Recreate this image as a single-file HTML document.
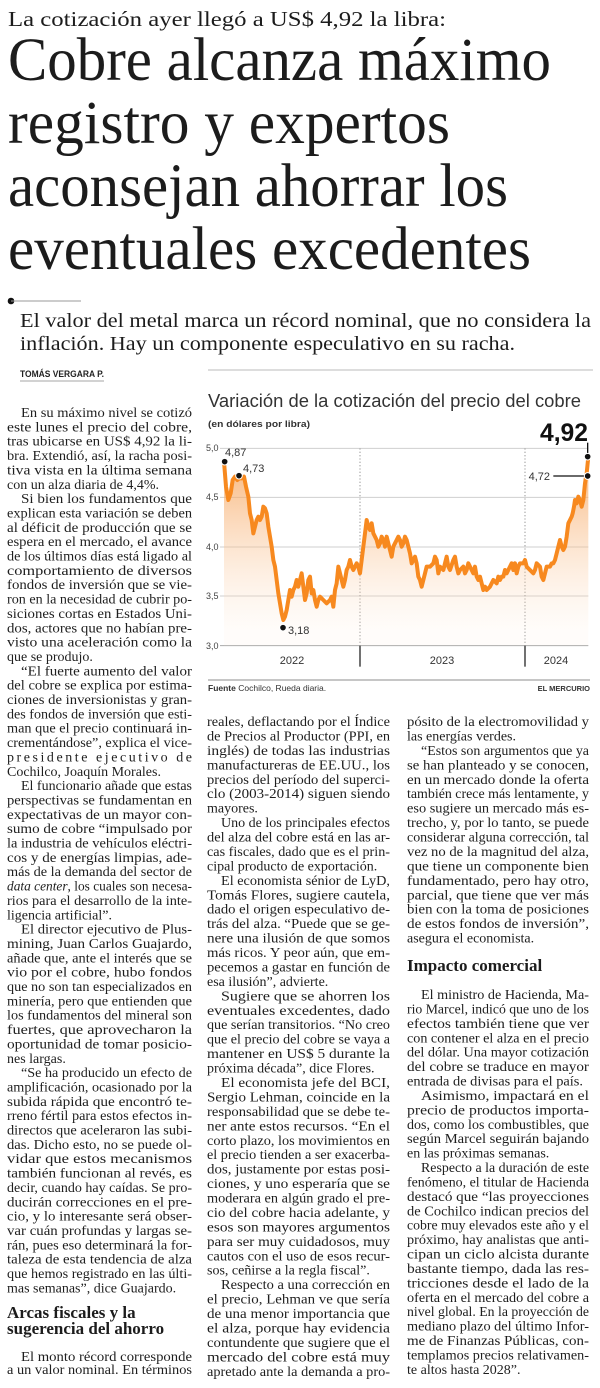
<!DOCTYPE html>
<html><head><meta charset="utf-8"><style>
html,body{margin:0;padding:0;background:#fff}
svg{display:block}
.s{font-family:"Liberation Serif",serif;fill:#1c1c1c}
.b{font-family:"Liberation Serif",serif;fill:#1e1e1e;font-size:14px}
.h{font-family:"Liberation Serif",serif;fill:#1c1c1c;font-size:17px;font-weight:bold}
.a{font-family:"Liberation Sans",sans-serif}
</style></head><body>
<svg width="600" height="1388" viewBox="0 0 600 1388" xmlns="http://www.w3.org/2000/svg">
<rect width="600" height="1388" fill="#fff"/>
<text class="s" x="8" y="26" font-size="21" textLength="438" lengthAdjust="spacingAndGlyphs">La cotización ayer llegó a US$ 4,92 la libra:</text>
<text class="s" x="8" y="80" font-size="61" textLength="543" lengthAdjust="spacingAndGlyphs">Cobre alcanza máximo</text>
<text class="s" x="8" y="143" font-size="61" textLength="442" lengthAdjust="spacingAndGlyphs">registro y expertos</text>
<text class="s" x="8" y="206" font-size="61" textLength="500" lengthAdjust="spacingAndGlyphs">aconsejan ahorrar los</text>
<text class="s" x="8" y="269" font-size="61" textLength="523" lengthAdjust="spacingAndGlyphs">eventuales excedentes</text>
<circle cx="11" cy="301" r="3.3" fill="#111"/>
<line x1="11" y1="301" x2="81" y2="301" stroke="#999" stroke-width="1"/>
<text class="s" x="20" y="327" font-size="20" textLength="571" lengthAdjust="spacingAndGlyphs">El valor del metal marca un récord nominal, que no considera la</text>
<text class="s" x="20" y="350" font-size="20" textLength="495" lengthAdjust="spacingAndGlyphs">inflación. Hay un componente especulativo en su racha.</text>
<text class="a" x="20" y="377" font-size="9" font-weight="bold" fill="#222" textLength="84" lengthAdjust="spacingAndGlyphs">TOMÁS VERGARA P.</text>
<line x1="20" y1="381" x2="104" y2="381" stroke="#888" stroke-width="0.8"/>
<line x1="208" y1="370" x2="593" y2="370" stroke="#bbb" stroke-width="1"/>

<text class="a" x="208" y="407" font-size="18" fill="#333" textLength="373" lengthAdjust="spacingAndGlyphs">Variación de la cotización del precio del cobre</text>
<text class="a" x="208" y="427" font-size="9.5" font-weight="bold" fill="#333" textLength="102" lengthAdjust="spacingAndGlyphs">(en dólares por libra)</text>
<text class="a" x="540" y="441" font-size="25" font-weight="bold" fill="#111" textLength="48" lengthAdjust="spacingAndGlyphs">4,92</text>
<g transform="translate(200,380) scale(0.33333)">
<defs><linearGradient id="g" gradientUnits="userSpaceOnUse" x1="0" y1="230" x2="0" y2="760"><stop offset="0" stop-color="#f59a4a" stop-opacity="0.75"/><stop offset="1" stop-color="#fde6d2" stop-opacity="0.1"/></linearGradient></defs>
<g stroke="#cfcfcf" stroke-width="3">
<line x1="60" y1="205" x2="1165" y2="205"/><line x1="60" y1="352" x2="1165" y2="352"/><line x1="60" y1="501" x2="1165" y2="501"/><line x1="60" y1="648" x2="1165" y2="648"/>
</g>
<line x1="60" y1="797" x2="1165" y2="797" stroke="#aaa" stroke-width="3"/>
<g stroke="#999" stroke-width="3" stroke-dasharray="4,6"><line x1="480" y1="205" x2="480" y2="797"/><line x1="975" y1="205" x2="975" y2="797"/></g>
<g stroke="#555" stroke-width="5"><line x1="480" y1="797" x2="480" y2="860"/><line x1="975" y1="797" x2="975" y2="860"/></g>
<polygon fill="url(#g)" points="72,797 72,245 78,320 85,360 92,340 98,300 105,290 112,300 118,295 125,295 132,290 138,320 145,350 150,400 155,420 160,460 165,440 170,420 175,410 180,420 185,410 190,380 195,385 200,400 205,440 210,470 215,500 220,540 225,560 230,600 235,640 240,670 245,700 250,720 255,710 260,690 265,660 270,630 275,650 280,630 285,620 290,600 295,620 300,600 305,580 310,620 315,660 320,640 325,600 330,590 335,640 340,630 345,660 350,680 355,660 360,650 370,660 380,670 390,660 395,650 400,680 405,630 410,610 415,560 420,580 425,600 430,620 435,600 440,570 445,560 450,540 455,560 460,570 465,560 470,550 475,560 480,580 485,540 490,500 495,460 500,420 505,440 510,450 515,430 520,460 525,470 530,480 535,500 540,490 545,470 550,480 555,500 560,470 565,490 570,510 575,530 580,500 585,490 590,480 595,470 600,480 605,500 610,490 615,470 620,480 625,500 630,520 635,550 640,540 645,530 650,550 655,590 660,600 665,620 670,600 675,580 680,560 690,560 700,550 705,530 710,540 715,580 720,560 730,570 740,530 745,560 750,570 760,540 765,530 770,560 775,580 780,570 790,560 795,580 800,570 805,550 810,560 815,570 820,580 825,560 830,590 835,600 840,590 845,610 850,630 855,620 860,630 870,620 880,600 890,610 895,590 900,600 905,590 910,590 915,570 920,580 930,560 935,550 940,570 945,550 950,580 955,560 960,550 970,550 975,540 980,560 990,570 1000,580 1005,570 1010,550 1020,560 1025,590 1030,600 1035,580 1040,560 1050,560 1055,550 1060,550 1065,540 1070,520 1075,500 1080,480 1085,500 1090,510 1095,500 1100,470 1105,430 1110,420 1115,410 1118,400 1122,380 1125,360 1130,370 1135,350 1140,360 1145,380 1150,360 1155,310 1158,290 1160,280 1163,250 1165,230 1165,797"/>
<polyline fill="none" stroke="#f7891f" stroke-width="12" stroke-linejoin="round" points="72,245 78,320 85,360 92,340 98,300 105,290 112,300 118,295 125,295 132,290 138,320 145,350 150,400 155,420 160,460 165,440 170,420 175,410 180,420 185,410 190,380 195,385 200,400 205,440 210,470 215,500 220,540 225,560 230,600 235,640 240,670 245,700 250,720 255,710 260,690 265,660 270,630 275,650 280,630 285,620 290,600 295,620 300,600 305,580 310,620 315,660 320,640 325,600 330,590 335,640 340,630 345,660 350,680 355,660 360,650 370,660 380,670 390,660 395,650 400,680 405,630 410,610 415,560 420,580 425,600 430,620 435,600 440,570 445,560 450,540 455,560 460,570 465,560 470,550 475,560 480,580 485,540 490,500 495,460 500,420 505,440 510,450 515,430 520,460 525,470 530,480 535,500 540,490 545,470 550,480 555,500 560,470 565,490 570,510 575,530 580,500 585,490 590,480 595,470 600,480 605,500 610,490 615,470 620,480 625,500 630,520 635,550 640,540 645,530 650,550 655,590 660,600 665,620 670,600 675,580 680,560 690,560 700,550 705,530 710,540 715,580 720,560 730,570 740,530 745,560 750,570 760,540 765,530 770,560 775,580 780,570 790,560 795,580 800,570 805,550 810,560 815,570 820,580 825,560 830,590 835,600 840,590 845,610 850,630 855,620 860,630 870,620 880,600 890,610 895,590 900,600 905,590 910,590 915,570 920,580 930,560 935,550 940,570 945,550 950,580 955,560 960,550 970,550 975,540 980,560 990,570 1000,580 1005,570 1010,550 1020,560 1025,590 1030,600 1035,580 1040,560 1050,560 1055,550 1060,550 1065,540 1070,520 1075,500 1080,480 1085,500 1090,510 1095,500 1100,470 1105,430 1110,420 1115,410 1118,400 1122,380 1125,360 1130,370 1135,350 1140,360 1145,380 1150,360 1155,310 1158,290 1160,280 1163,250 1165,230"/>
<line x1="1060" y1="288" x2="1163" y2="288" stroke="#111" stroke-width="4"/>
<line x1="1163" y1="230" x2="1163" y2="188" stroke="#111" stroke-width="4"/>
<g fill="#111" stroke="#fff" stroke-width="3">
<circle cx="74" cy="245" r="10"/><circle cx="117" cy="287" r="10"/><circle cx="249" cy="743" r="10"/><circle cx="1163" cy="288" r="10"/><circle cx="1163" cy="230" r="10"/>
</g>
</g>
<g class="a" font-size="9" fill="#444">
<text x="206" y="451">5,0</text><text x="206" y="500">4,5</text><text x="206" y="550">4,0</text><text x="206" y="599">3,5</text><text x="206" y="649">3,0</text>
</g>
<g class="a" font-size="11" fill="#333">
<text x="225" y="456">4,87</text><text x="243" y="472">4,73</text><text x="288" y="634">3,18</text><text x="550" y="480" text-anchor="end">4,72</text>
<text x="292" y="664" text-anchor="middle">2022</text><text x="442" y="664" text-anchor="middle">2023</text><text x="556" y="664" text-anchor="middle">2024</text>
</g>
<line x1="208" y1="680" x2="590" y2="680" stroke="#666" stroke-width="0.8"/>
<text class="a" x="208" y="691" font-size="8.5" fill="#333"><tspan font-weight="bold">Fuente</tspan> Cochilco, Rueda diaria.</text>
<text class="a" x="590" y="691" font-size="7.5" font-weight="bold" fill="#333" text-anchor="end">EL MERCURIO</text>

<text class="b" x="21" y="417" textLength="171" lengthAdjust="spacingAndGlyphs">En su máximo nivel se cotizó</text>
<text class="b" x="7" y="431.4" textLength="185" lengthAdjust="spacingAndGlyphs">este lunes el precio del cobre,</text>
<text class="b" x="7" y="445.7" textLength="185" lengthAdjust="spacingAndGlyphs">tras ubicarse en US$ 4,92 la li-</text>
<text class="b" x="7" y="460.1" textLength="185" lengthAdjust="spacingAndGlyphs">bra. Extendió, así, la racha posi-</text>
<text class="b" x="7" y="474.4" textLength="185" lengthAdjust="spacingAndGlyphs">tiva vista en la última semana</text>
<text class="b" x="7" y="488.8">con un alza diaria de 4,4%.</text>
<text class="b" x="21" y="503.1" textLength="171" lengthAdjust="spacingAndGlyphs">Si bien los fundamentos que</text>
<text class="b" x="7" y="517.5" textLength="185" lengthAdjust="spacingAndGlyphs">explican esta variación se deben</text>
<text class="b" x="7" y="531.8" textLength="185" lengthAdjust="spacingAndGlyphs">al déficit de producción que se</text>
<text class="b" x="7" y="546.2" textLength="185" lengthAdjust="spacingAndGlyphs">espera en el mercado, el avance</text>
<text class="b" x="7" y="560.5" textLength="185" lengthAdjust="spacingAndGlyphs">de los últimos días está ligado al</text>
<text class="b" x="7" y="574.9" textLength="185" lengthAdjust="spacingAndGlyphs">comportamiento de diversos</text>
<text class="b" x="7" y="589.2" textLength="185" lengthAdjust="spacingAndGlyphs">fondos de inversión que se vie-</text>
<text class="b" x="7" y="603.6" textLength="185" lengthAdjust="spacingAndGlyphs">ron en la necesidad de cubrir po-</text>
<text class="b" x="7" y="617.9" textLength="185" lengthAdjust="spacingAndGlyphs">siciones cortas en Estados Uni-</text>
<text class="b" x="7" y="632.3" textLength="185" lengthAdjust="spacingAndGlyphs">dos, actores que no habían pre-</text>
<text class="b" x="7" y="646.6" textLength="185" lengthAdjust="spacingAndGlyphs">visto una aceleración como la</text>
<text class="b" x="7" y="661">que se produjo.</text>
<text class="b" x="21" y="675.3" textLength="171" lengthAdjust="spacingAndGlyphs">“El fuerte aumento del valor</text>
<text class="b" x="7" y="689.7" textLength="185" lengthAdjust="spacingAndGlyphs">del cobre se explica por estima-</text>
<text class="b" x="7" y="704" textLength="185" lengthAdjust="spacingAndGlyphs">ciones de inversionistas y gran-</text>
<text class="b" x="7" y="718.4" textLength="185" lengthAdjust="spacingAndGlyphs">des fondos de inversión que esti-</text>
<text class="b" x="7" y="732.7" textLength="185" lengthAdjust="spacingAndGlyphs">man que el precio continuará in-</text>
<text class="b" x="7" y="747.1" textLength="185" lengthAdjust="spacingAndGlyphs">crementándose”, explica el vice-</text>
<text class="b" x="7" y="761.4" textLength="185" lengthAdjust="spacing">presidente ejecutivo de</text>
<text class="b" x="7" y="775.8">Cochilco, Joaquín Morales.</text>
<text class="b" x="21" y="790.1" textLength="171" lengthAdjust="spacingAndGlyphs">El funcionario añade que estas</text>
<text class="b" x="7" y="804.5" textLength="185" lengthAdjust="spacingAndGlyphs">perspectivas se fundamentan en</text>
<text class="b" x="7" y="818.8" textLength="185" lengthAdjust="spacingAndGlyphs">expectativas de un mayor con-</text>
<text class="b" x="7" y="833.2" textLength="185" lengthAdjust="spacingAndGlyphs">sumo de cobre “impulsado por</text>
<text class="b" x="7" y="847.5" textLength="185" lengthAdjust="spacingAndGlyphs">la industria de vehículos eléctri-</text>
<text class="b" x="7" y="861.9" textLength="185" lengthAdjust="spacingAndGlyphs">cos y de energías limpias, ade-</text>
<text class="b" x="7" y="876.2" textLength="185" lengthAdjust="spacingAndGlyphs">más de la demanda del sector de</text>
<text class="b" x="7" y="890.6" textLength="185" lengthAdjust="spacingAndGlyphs"><tspan font-style="italic">data center</tspan>, los cuales son necesa-</text>
<text class="b" x="7" y="904.9" textLength="185" lengthAdjust="spacingAndGlyphs">rios para el desarrollo de la inte-</text>
<text class="b" x="7" y="919.3">ligencia artificial”.</text>
<text class="b" x="21" y="933.6" textLength="171" lengthAdjust="spacingAndGlyphs">El director ejecutivo de Plus-</text>
<text class="b" x="7" y="948" textLength="185" lengthAdjust="spacingAndGlyphs">mining, Juan Carlos Guajardo,</text>
<text class="b" x="7" y="962.3" textLength="185" lengthAdjust="spacingAndGlyphs">añade que, ante el interés que se</text>
<text class="b" x="7" y="976.7" textLength="185" lengthAdjust="spacingAndGlyphs">vio por el cobre, hubo fondos</text>
<text class="b" x="7" y="991" textLength="185" lengthAdjust="spacingAndGlyphs">que no son tan especializados en</text>
<text class="b" x="7" y="1005.4" textLength="185" lengthAdjust="spacingAndGlyphs">minería, pero que entienden que</text>
<text class="b" x="7" y="1019.7" textLength="185" lengthAdjust="spacingAndGlyphs">los fundamentos del mineral son</text>
<text class="b" x="7" y="1034.1" textLength="185" lengthAdjust="spacingAndGlyphs">fuertes, que aprovecharon la</text>
<text class="b" x="7" y="1048.4" textLength="185" lengthAdjust="spacingAndGlyphs">oportunidad de tomar posicio-</text>
<text class="b" x="7" y="1062.8">nes largas.</text>
<text class="b" x="21" y="1077.1" textLength="171" lengthAdjust="spacingAndGlyphs">“Se ha producido un efecto de</text>
<text class="b" x="7" y="1091.5" textLength="185" lengthAdjust="spacingAndGlyphs">amplificación, ocasionado por la</text>
<text class="b" x="7" y="1105.8" textLength="185" lengthAdjust="spacingAndGlyphs">subida rápida que encontró te-</text>
<text class="b" x="7" y="1120.2" textLength="185" lengthAdjust="spacingAndGlyphs">rreno fértil para estos efectos in-</text>
<text class="b" x="7" y="1134.5" textLength="185" lengthAdjust="spacingAndGlyphs">directos que aceleraron las subi-</text>
<text class="b" x="7" y="1148.9" textLength="185" lengthAdjust="spacingAndGlyphs">das. Dicho esto, no se puede ol-</text>
<text class="b" x="7" y="1163.2" textLength="185" lengthAdjust="spacingAndGlyphs">vidar que estos mecanismos</text>
<text class="b" x="7" y="1177.6" textLength="185" lengthAdjust="spacingAndGlyphs">también funcionan al revés, es</text>
<text class="b" x="7" y="1191.9" textLength="185" lengthAdjust="spacingAndGlyphs">decir, cuando hay caídas. Se pro-</text>
<text class="b" x="7" y="1206.3" textLength="185" lengthAdjust="spacingAndGlyphs">ducirán correcciones en el pre-</text>
<text class="b" x="7" y="1220.6" textLength="185" lengthAdjust="spacingAndGlyphs">cio, y lo interesante será obser-</text>
<text class="b" x="7" y="1235" textLength="185" lengthAdjust="spacingAndGlyphs">var cuán profundas y largas se-</text>
<text class="b" x="7" y="1249.3" textLength="185" lengthAdjust="spacingAndGlyphs">rán, pues eso determinará la for-</text>
<text class="b" x="7" y="1263.7" textLength="185" lengthAdjust="spacingAndGlyphs">taleza de esta tendencia de alza</text>
<text class="b" x="7" y="1278" textLength="185" lengthAdjust="spacingAndGlyphs">que hemos registrado en las últi-</text>
<text class="b" x="7" y="1292.4">mas semanas”, dice Guajardo.</text>
<text class="h" x="7" y="1318">Arcas fiscales y la</text>
<text class="h" x="7" y="1334">sugerencia del ahorro</text>
<text class="b" x="21" y="1361" textLength="171" lengthAdjust="spacingAndGlyphs">El monto récord corresponde</text>
<text class="b" x="7" y="1374" textLength="185" lengthAdjust="spacingAndGlyphs">a un valor nominal. En términos</text>

<text class="b" x="207" y="726" textLength="183" lengthAdjust="spacingAndGlyphs">reales, deflactando por el Índice</text>
<text class="b" x="207" y="740.4" textLength="183" lengthAdjust="spacingAndGlyphs">de Precios al Productor (PPI, en</text>
<text class="b" x="207" y="754.9" textLength="183" lengthAdjust="spacingAndGlyphs">inglés) de todas las industrias</text>
<text class="b" x="207" y="769.3" textLength="183" lengthAdjust="spacingAndGlyphs">manufactureras de EE.UU., los</text>
<text class="b" x="207" y="783.8" textLength="183" lengthAdjust="spacingAndGlyphs">precios del período del superci-</text>
<text class="b" x="207" y="798.2" textLength="183" lengthAdjust="spacingAndGlyphs">clo (2003-2014) siguen siendo</text>
<text class="b" x="207" y="812.6">mayores.</text>
<text class="b" x="221" y="827.1" textLength="169" lengthAdjust="spacingAndGlyphs">Uno de los principales efectos</text>
<text class="b" x="207" y="841.5" textLength="183" lengthAdjust="spacingAndGlyphs">del alza del cobre está en las ar-</text>
<text class="b" x="207" y="856" textLength="183" lengthAdjust="spacingAndGlyphs">cas fiscales, dado que es el prin-</text>
<text class="b" x="207" y="870.4">cipal producto de exportación.</text>
<text class="b" x="221" y="884.8" textLength="169" lengthAdjust="spacingAndGlyphs">El economista sénior de LyD,</text>
<text class="b" x="207" y="899.3" textLength="183" lengthAdjust="spacingAndGlyphs">Tomás Flores, sugiere cautela,</text>
<text class="b" x="207" y="913.7" textLength="183" lengthAdjust="spacingAndGlyphs">dado el origen especulativo de-</text>
<text class="b" x="207" y="928.2" textLength="183" lengthAdjust="spacingAndGlyphs">trás del alza. “Puede que se ge-</text>
<text class="b" x="207" y="942.6" textLength="183" lengthAdjust="spacingAndGlyphs">nere una ilusión de que somos</text>
<text class="b" x="207" y="957" textLength="183" lengthAdjust="spacingAndGlyphs">más ricos. Y peor aún, que em-</text>
<text class="b" x="207" y="971.5" textLength="183" lengthAdjust="spacingAndGlyphs">pecemos a gastar en función de</text>
<text class="b" x="207" y="985.9">esa ilusión”, advierte.</text>
<text class="b" x="221" y="1000.4" textLength="169" lengthAdjust="spacingAndGlyphs">Sugiere que se ahorren los</text>
<text class="b" x="207" y="1014.8" textLength="183" lengthAdjust="spacingAndGlyphs">eventuales excedentes, dado</text>
<text class="b" x="207" y="1029.2" textLength="183" lengthAdjust="spacingAndGlyphs">que serían transitorios. “No creo</text>
<text class="b" x="207" y="1043.7" textLength="183" lengthAdjust="spacingAndGlyphs">que el precio del cobre se vaya a</text>
<text class="b" x="207" y="1058.1" textLength="183" lengthAdjust="spacingAndGlyphs">mantener en US$ 5 durante la</text>
<text class="b" x="207" y="1072.6">próxima década”, dice Flores.</text>
<text class="b" x="221" y="1087" textLength="169" lengthAdjust="spacingAndGlyphs">El economista jefe del BCI,</text>
<text class="b" x="207" y="1101.4" textLength="183" lengthAdjust="spacingAndGlyphs">Sergio Lehman, coincide en la</text>
<text class="b" x="207" y="1115.9" textLength="183" lengthAdjust="spacingAndGlyphs">responsabilidad que se debe te-</text>
<text class="b" x="207" y="1130.3" textLength="183" lengthAdjust="spacingAndGlyphs">ner ante estos recursos. “En el</text>
<text class="b" x="207" y="1144.8" textLength="183" lengthAdjust="spacingAndGlyphs">corto plazo, los movimientos en</text>
<text class="b" x="207" y="1159.2" textLength="183" lengthAdjust="spacingAndGlyphs">el precio tienden a ser exacerba-</text>
<text class="b" x="207" y="1173.6" textLength="183" lengthAdjust="spacingAndGlyphs">dos, justamente por estas posi-</text>
<text class="b" x="207" y="1188.1" textLength="183" lengthAdjust="spacingAndGlyphs">ciones, y uno esperaría que se</text>
<text class="b" x="207" y="1202.5" textLength="183" lengthAdjust="spacingAndGlyphs">moderara en algún grado el pre-</text>
<text class="b" x="207" y="1217" textLength="183" lengthAdjust="spacingAndGlyphs">cio del cobre hacia adelante, y</text>
<text class="b" x="207" y="1231.4" textLength="183" lengthAdjust="spacingAndGlyphs">esos son mayores argumentos</text>
<text class="b" x="207" y="1245.8" textLength="183" lengthAdjust="spacingAndGlyphs">para ser muy cuidadosos, muy</text>
<text class="b" x="207" y="1260.3" textLength="183" lengthAdjust="spacingAndGlyphs">cautos con el uso de esos recur-</text>
<text class="b" x="207" y="1274.7">sos, ceñirse a la regla fiscal”.</text>
<text class="b" x="221" y="1289.2" textLength="169" lengthAdjust="spacingAndGlyphs">Respecto a una corrección en</text>
<text class="b" x="207" y="1303.6" textLength="183" lengthAdjust="spacingAndGlyphs">el precio, Lehman ve que sería</text>
<text class="b" x="207" y="1318" textLength="183" lengthAdjust="spacingAndGlyphs">de una menor importancia que</text>
<text class="b" x="207" y="1332.5" textLength="183" lengthAdjust="spacingAndGlyphs">el alza, porque hay evidencia</text>
<text class="b" x="207" y="1346.9" textLength="183" lengthAdjust="spacingAndGlyphs">contundente que sugiere que el</text>
<text class="b" x="207" y="1361.4" textLength="183" lengthAdjust="spacingAndGlyphs">mercado del cobre está muy</text>
<text class="b" x="207" y="1375.8" textLength="183" lengthAdjust="spacingAndGlyphs">apretado ante la demanda a pro-</text>

<text class="b" x="407" y="726" textLength="182" lengthAdjust="spacingAndGlyphs">pósito de la electromovilidad y</text>
<text class="b" x="407" y="740.4">las energías verdes.</text>
<text class="b" x="421" y="754.9" textLength="168" lengthAdjust="spacingAndGlyphs">“Estos son argumentos que ya</text>
<text class="b" x="407" y="769.3" textLength="182" lengthAdjust="spacingAndGlyphs">se han planteado y se conocen,</text>
<text class="b" x="407" y="783.8" textLength="182" lengthAdjust="spacingAndGlyphs">en un mercado donde la oferta</text>
<text class="b" x="407" y="798.2" textLength="182" lengthAdjust="spacingAndGlyphs">también crece más lentamente, y</text>
<text class="b" x="407" y="812.6" textLength="182" lengthAdjust="spacingAndGlyphs">eso sugiere un mercado más es-</text>
<text class="b" x="407" y="827.1" textLength="182" lengthAdjust="spacingAndGlyphs">trecho, y, por lo tanto, se puede</text>
<text class="b" x="407" y="841.5" textLength="182" lengthAdjust="spacingAndGlyphs">considerar alguna corrección, tal</text>
<text class="b" x="407" y="856" textLength="182" lengthAdjust="spacingAndGlyphs">vez no de la magnitud del alza,</text>
<text class="b" x="407" y="870.4" textLength="182" lengthAdjust="spacingAndGlyphs">que tiene un componente bien</text>
<text class="b" x="407" y="884.8" textLength="182" lengthAdjust="spacingAndGlyphs">fundamentado, pero hay otro,</text>
<text class="b" x="407" y="899.3" textLength="182" lengthAdjust="spacingAndGlyphs">parcial, que tiene que ver más</text>
<text class="b" x="407" y="913.7" textLength="182" lengthAdjust="spacingAndGlyphs">bien con la toma de posiciones</text>
<text class="b" x="407" y="928.2" textLength="182" lengthAdjust="spacingAndGlyphs">de estos fondos de inversión”,</text>
<text class="b" x="407" y="942.6">asegura el economista.</text>
<text class="h" x="407" y="971">Impacto comercial</text>
<text class="b" x="421" y="999" textLength="168" lengthAdjust="spacingAndGlyphs">El ministro de Hacienda, Ma-</text>
<text class="b" x="407" y="1013.4" textLength="182" lengthAdjust="spacingAndGlyphs">rio Marcel, indicó que uno de los</text>
<text class="b" x="407" y="1027.8" textLength="182" lengthAdjust="spacingAndGlyphs">efectos también tiene que ver</text>
<text class="b" x="407" y="1042.3" textLength="182" lengthAdjust="spacingAndGlyphs">con contener el alza en el precio</text>
<text class="b" x="407" y="1056.7" textLength="182" lengthAdjust="spacingAndGlyphs">del dólar. Una mayor cotización</text>
<text class="b" x="407" y="1071.1" textLength="182" lengthAdjust="spacingAndGlyphs">del cobre se traduce en mayor</text>
<text class="b" x="407" y="1085.5" textLength="176" lengthAdjust="spacingAndGlyphs">entrada de divisas para el país.</text>
<text class="b" x="421" y="1099.9" textLength="168" lengthAdjust="spacingAndGlyphs">Asimismo, impactará en el</text>
<text class="b" x="407" y="1114.4" textLength="182" lengthAdjust="spacingAndGlyphs">precio de productos importa-</text>
<text class="b" x="407" y="1128.8" textLength="182" lengthAdjust="spacingAndGlyphs">dos, como los combustibles, que</text>
<text class="b" x="407" y="1143.2" textLength="182" lengthAdjust="spacingAndGlyphs">según Marcel seguirán bajando</text>
<text class="b" x="407" y="1157.6">en las próximas semanas.</text>
<text class="b" x="421" y="1172" textLength="168" lengthAdjust="spacingAndGlyphs">Respecto a la duración de este</text>
<text class="b" x="407" y="1186.5" textLength="182" lengthAdjust="spacingAndGlyphs">fenómeno, el titular de Hacienda</text>
<text class="b" x="407" y="1200.9" textLength="182" lengthAdjust="spacingAndGlyphs">destacó que “las proyecciones</text>
<text class="b" x="407" y="1215.3" textLength="182" lengthAdjust="spacingAndGlyphs">de Cochilco indican precios del</text>
<text class="b" x="407" y="1229.7" textLength="182" lengthAdjust="spacingAndGlyphs">cobre muy elevados este año y el</text>
<text class="b" x="407" y="1244.1" textLength="182" lengthAdjust="spacingAndGlyphs">próximo, hay analistas que anti-</text>
<text class="b" x="407" y="1258.6" textLength="182" lengthAdjust="spacingAndGlyphs">cipan un ciclo alcista durante</text>
<text class="b" x="407" y="1273" textLength="182" lengthAdjust="spacingAndGlyphs">bastante tiempo, dada las res-</text>
<text class="b" x="407" y="1287.4" textLength="182" lengthAdjust="spacingAndGlyphs">tricciones desde el lado de la</text>
<text class="b" x="407" y="1301.8" textLength="182" lengthAdjust="spacingAndGlyphs">oferta en el mercado del cobre a</text>
<text class="b" x="407" y="1316.2" textLength="182" lengthAdjust="spacingAndGlyphs">nivel global. En la proyección de</text>
<text class="b" x="407" y="1330.7" textLength="182" lengthAdjust="spacingAndGlyphs">mediano plazo del último Infor-</text>
<text class="b" x="407" y="1345.1" textLength="182" lengthAdjust="spacingAndGlyphs">me de Finanzas Públicas, con-</text>
<text class="b" x="407" y="1359.5" textLength="182" lengthAdjust="spacingAndGlyphs">templamos precios relativamen-</text>
<text class="b" x="407" y="1373.9">te altos hasta 2028”.</text>
</svg>
</body></html>
